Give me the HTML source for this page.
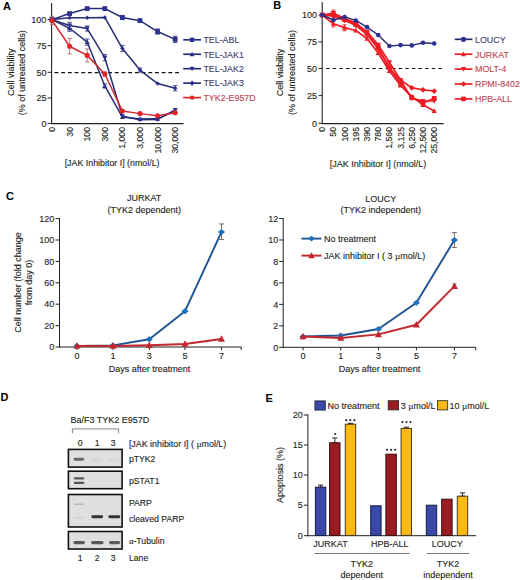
<!DOCTYPE html>
<html><head><meta charset="utf-8"><title>Figure</title>
<style>
html,body{margin:0;padding:0;background:#fff;width:520px;height:580px;overflow:hidden;}
svg{display:block;font-family:"Liberation Sans", sans-serif;}
</style></head>
<body>
<svg width="520" height="580" viewBox="0 0 520 580">
<defs><filter id="bl" x="-30%" y="-100%" width="160%" height="300%"><feGaussianBlur stdDeviation="0.7"/></filter></defs>
<rect width="520" height="580" fill="#fff"/>
<text x="3" y="9.7" font-size="11" text-anchor="start" fill="#000" font-weight="bold">A</text>
<line x1="51.6" y1="3" x2="51.6" y2="124.1" stroke="#231f20" stroke-width="1.1"/>
<line x1="51.1" y1="123.6" x2="183.6" y2="123.6" stroke="#231f20" stroke-width="1.1"/>
<line x1="47.6" y1="123.4" x2="51.6" y2="123.4" stroke="#231f20" stroke-width="1"/>
<text x="46.4" y="126.6" font-size="9" text-anchor="end" fill="#231f20" stroke="#231f20" stroke-width="0.12">0</text>
<line x1="47.6" y1="98" x2="51.6" y2="98" stroke="#231f20" stroke-width="1"/>
<text x="46.4" y="101.2" font-size="9" text-anchor="end" fill="#231f20" stroke="#231f20" stroke-width="0.12">25</text>
<line x1="47.6" y1="72.3" x2="51.6" y2="72.3" stroke="#231f20" stroke-width="1"/>
<text x="46.4" y="75.5" font-size="9" text-anchor="end" fill="#231f20" stroke="#231f20" stroke-width="0.12">50</text>
<line x1="47.6" y1="45.7" x2="51.6" y2="45.7" stroke="#231f20" stroke-width="1"/>
<text x="46.4" y="48.9" font-size="9" text-anchor="end" fill="#231f20" stroke="#231f20" stroke-width="0.12">75</text>
<line x1="47.6" y1="19.5" x2="51.6" y2="19.5" stroke="#231f20" stroke-width="1"/>
<text x="46.4" y="22.7" font-size="9" text-anchor="end" fill="#231f20" stroke="#231f20" stroke-width="0.12">100</text>
<text x="0" y="0" font-size="8.7" text-anchor="end" fill="#231f20" stroke="#231f20" stroke-width="0.12" transform="translate(54.9,127) rotate(-90)">0</text>
<text x="0" y="0" font-size="8.7" text-anchor="end" fill="#231f20" stroke="#231f20" stroke-width="0.12" transform="translate(72.5,127) rotate(-90)">30</text>
<text x="0" y="0" font-size="8.7" text-anchor="end" fill="#231f20" stroke="#231f20" stroke-width="0.12" transform="translate(90.1,127) rotate(-90)">100</text>
<text x="0" y="0" font-size="8.7" text-anchor="end" fill="#231f20" stroke="#231f20" stroke-width="0.12" transform="translate(107.7,127) rotate(-90)">300</text>
<text x="0" y="0" font-size="8.7" text-anchor="end" fill="#231f20" stroke="#231f20" stroke-width="0.12" transform="translate(125.3,127) rotate(-90)">1,000</text>
<text x="0" y="0" font-size="8.7" text-anchor="end" fill="#231f20" stroke="#231f20" stroke-width="0.12" transform="translate(142.9,127) rotate(-90)">3,000</text>
<text x="0" y="0" font-size="8.7" text-anchor="end" fill="#231f20" stroke="#231f20" stroke-width="0.12" transform="translate(160.5,127) rotate(-90)">10,000</text>
<text x="0" y="0" font-size="8.7" text-anchor="end" fill="#231f20" stroke="#231f20" stroke-width="0.12" transform="translate(178.1,127) rotate(-90)">30,000</text>
<text x="112.1" y="166.4" font-size="8.85" text-anchor="middle" fill="#231f20" stroke="#231f20" stroke-width="0.12">[JAK Inhibitor I] (nmol/L)</text>
<text x="0" y="0" font-size="9" text-anchor="middle" fill="#231f20" stroke="#231f20" stroke-width="0.12" transform="translate(13.5,72.2) rotate(-90)">Cell viability</text>
<text x="0" y="0" font-size="9" text-anchor="middle" fill="#231f20" stroke="#231f20" stroke-width="0.12" transform="translate(24.6,72.7) rotate(-90)">(% of untreated cells)</text>
<line x1="54.5" y1="72.6" x2="180" y2="72.6" stroke="#111" stroke-width="1.15" stroke-dasharray="3.85,2.85"/>
<line x1="122.4" y1="15.44" x2="122.4" y2="19.6" stroke="#3a4080" stroke-width="0.9"/>
<line x1="120.2" y1="15.44" x2="124.6" y2="15.44" stroke="#3a4080" stroke-width="0.9"/>
<line x1="120.2" y1="19.6" x2="124.6" y2="19.6" stroke="#3a4080" stroke-width="0.9"/>
<line x1="140" y1="19.08" x2="140" y2="22.2" stroke="#3a4080" stroke-width="0.9"/>
<line x1="137.8" y1="19.08" x2="142.2" y2="19.08" stroke="#3a4080" stroke-width="0.9"/>
<line x1="137.8" y1="22.2" x2="142.2" y2="22.2" stroke="#3a4080" stroke-width="0.9"/>
<line x1="157.6" y1="28.96" x2="157.6" y2="34.16" stroke="#3a4080" stroke-width="0.9"/>
<line x1="155.4" y1="28.96" x2="159.8" y2="28.96" stroke="#3a4080" stroke-width="0.9"/>
<line x1="155.4" y1="34.16" x2="159.8" y2="34.16" stroke="#3a4080" stroke-width="0.9"/>
<line x1="175.2" y1="36.24" x2="175.2" y2="42.48" stroke="#3a4080" stroke-width="0.9"/>
<line x1="173" y1="36.24" x2="177.4" y2="36.24" stroke="#3a4080" stroke-width="0.9"/>
<line x1="173" y1="42.48" x2="177.4" y2="42.48" stroke="#3a4080" stroke-width="0.9"/>
<polyline points="52,19.6 69.6,13.57 87.2,8.58 104.8,8.58 122.4,17.52 140,20.64 157.6,31.56 175.2,39.36" fill="none" stroke="#272d75" stroke-width="1.5" stroke-linejoin="round"/>
<rect x="49.6" y="17.2" width="4.8" height="4.8" fill="#2b3290"/>
<rect x="67.2" y="11.17" width="4.8" height="4.8" fill="#2b3290"/>
<rect x="84.8" y="6.18" width="4.8" height="4.8" fill="#2b3290"/>
<rect x="102.4" y="6.18" width="4.8" height="4.8" fill="#2b3290"/>
<rect x="120" y="15.12" width="4.8" height="4.8" fill="#2b3290"/>
<rect x="137.6" y="18.24" width="4.8" height="4.8" fill="#2b3290"/>
<rect x="155.2" y="29.16" width="4.8" height="4.8" fill="#2b3290"/>
<rect x="172.8" y="36.96" width="4.8" height="4.8" fill="#2b3290"/>
<line x1="122.4" y1="45.39" x2="122.4" y2="51.63" stroke="#3a4080" stroke-width="0.9"/>
<line x1="120.2" y1="45.39" x2="124.6" y2="45.39" stroke="#3a4080" stroke-width="0.9"/>
<line x1="120.2" y1="51.63" x2="124.6" y2="51.63" stroke="#3a4080" stroke-width="0.9"/>
<line x1="140" y1="67.96" x2="140" y2="72.12" stroke="#3a4080" stroke-width="0.9"/>
<line x1="137.8" y1="67.96" x2="142.2" y2="67.96" stroke="#3a4080" stroke-width="0.9"/>
<line x1="137.8" y1="72.12" x2="142.2" y2="72.12" stroke="#3a4080" stroke-width="0.9"/>
<line x1="175.2" y1="85.64" x2="175.2" y2="90.84" stroke="#3a4080" stroke-width="0.9"/>
<line x1="173" y1="85.64" x2="177.4" y2="85.64" stroke="#3a4080" stroke-width="0.9"/>
<line x1="173" y1="90.84" x2="177.4" y2="90.84" stroke="#3a4080" stroke-width="0.9"/>
<polyline points="52,19.6 69.6,17.73 87.2,17.73 104.8,17.42 122.4,48.51 140,70.04 157.6,83.56 175.2,88.24" fill="none" stroke="#272d75" stroke-width="1.5" stroke-linejoin="round"/>
<polygon points="52,17.38 54.22,19.6 52,21.82 49.78,19.6" fill="#2b3290"/>
<polygon points="69.6,15.51 71.82,17.73 69.6,19.95 67.38,17.73" fill="#2b3290"/>
<polygon points="87.2,15.51 89.42,17.73 87.2,19.95 84.98,17.73" fill="#2b3290"/>
<polygon points="104.8,15.2 107.02,17.42 104.8,19.64 102.58,17.42" fill="#2b3290"/>
<polygon points="122.4,46.29 124.62,48.51 122.4,50.73 120.18,48.51" fill="#2b3290"/>
<polygon points="140,67.82 142.22,70.04 140,72.26 137.78,70.04" fill="#2b3290"/>
<polygon points="157.6,81.34 159.82,83.56 157.6,85.78 155.38,83.56" fill="#2b3290"/>
<polygon points="175.2,86.02 177.42,88.24 175.2,90.46 172.98,88.24" fill="#2b3290"/>
<line x1="69.6" y1="22.3" x2="69.6" y2="28.54" stroke="#3a4080" stroke-width="0.9"/>
<line x1="67.4" y1="22.3" x2="71.8" y2="22.3" stroke="#3a4080" stroke-width="0.9"/>
<line x1="67.4" y1="28.54" x2="71.8" y2="28.54" stroke="#3a4080" stroke-width="0.9"/>
<line x1="87.2" y1="25.94" x2="87.2" y2="31.14" stroke="#3a4080" stroke-width="0.9"/>
<line x1="85" y1="25.94" x2="89.4" y2="25.94" stroke="#3a4080" stroke-width="0.9"/>
<line x1="85" y1="31.14" x2="89.4" y2="31.14" stroke="#3a4080" stroke-width="0.9"/>
<line x1="104.8" y1="54.54" x2="104.8" y2="60.78" stroke="#3a4080" stroke-width="0.9"/>
<line x1="102.6" y1="54.54" x2="107" y2="54.54" stroke="#3a4080" stroke-width="0.9"/>
<line x1="102.6" y1="60.78" x2="107" y2="60.78" stroke="#3a4080" stroke-width="0.9"/>
<polyline points="52,19.6 69.6,25.42 87.2,28.54 104.8,57.66 122.4,116.32 140,119.65 157.6,119.44 175.2,109.87" fill="none" stroke="#272d75" stroke-width="1.5" stroke-linejoin="round"/>
<polygon points="52,22.24 54.53,17.62 49.47,17.62" fill="#2b3290"/>
<polygon points="69.6,28.07 72.13,23.44 67.07,23.44" fill="#2b3290"/>
<polygon points="87.2,31.19 89.73,26.56 84.67,26.56" fill="#2b3290"/>
<polygon points="104.8,60.31 107.33,55.68 102.27,55.68" fill="#2b3290"/>
<polygon points="122.4,118.96 124.93,114.34 119.87,114.34" fill="#2b3290"/>
<polygon points="140,122.29 142.53,117.66 137.47,117.66" fill="#2b3290"/>
<polygon points="157.6,122.08 160.13,117.46 155.07,117.46" fill="#2b3290"/>
<polygon points="175.2,112.52 177.73,107.89 172.67,107.89" fill="#2b3290"/>
<line x1="69.6" y1="25.11" x2="69.6" y2="31.35" stroke="#3a4080" stroke-width="0.9"/>
<line x1="67.4" y1="25.11" x2="71.8" y2="25.11" stroke="#3a4080" stroke-width="0.9"/>
<line x1="67.4" y1="31.35" x2="71.8" y2="31.35" stroke="#3a4080" stroke-width="0.9"/>
<line x1="87.2" y1="38.94" x2="87.2" y2="45.18" stroke="#3a4080" stroke-width="0.9"/>
<line x1="85" y1="38.94" x2="89.4" y2="38.94" stroke="#3a4080" stroke-width="0.9"/>
<line x1="85" y1="45.18" x2="89.4" y2="45.18" stroke="#3a4080" stroke-width="0.9"/>
<line x1="104.8" y1="83.87" x2="104.8" y2="88.03" stroke="#3a4080" stroke-width="0.9"/>
<line x1="102.6" y1="83.87" x2="107" y2="83.87" stroke="#3a4080" stroke-width="0.9"/>
<line x1="102.6" y1="88.03" x2="107" y2="88.03" stroke="#3a4080" stroke-width="0.9"/>
<polyline points="52,19.6 69.6,28.23 87.2,42.06 104.8,85.95 122.4,117.05 140,119.02 157.6,118.82 175.2,110.91" fill="none" stroke="#272d75" stroke-width="1.5" stroke-linejoin="round"/>
<polygon points="52,16.95 54.53,21.58 49.47,21.58" fill="#2b3290"/>
<polygon points="69.6,25.59 72.13,30.22 67.07,30.22" fill="#2b3290"/>
<polygon points="87.2,39.42 89.73,44.05 84.67,44.05" fill="#2b3290"/>
<polygon points="104.8,83.31 107.33,87.94 102.27,87.94" fill="#2b3290"/>
<polygon points="122.4,114.4 124.93,119.03 119.87,119.03" fill="#2b3290"/>
<polygon points="140,116.38 142.53,121.01 137.47,121.01" fill="#2b3290"/>
<polygon points="157.6,116.17 160.13,120.8 155.07,120.8" fill="#2b3290"/>
<polygon points="175.2,108.27 177.73,112.9 172.67,112.9" fill="#2b3290"/>
<line x1="52" y1="16.27" x2="52" y2="24.59" stroke="#b07070" stroke-width="0.9"/>
<line x1="49.8" y1="16.27" x2="54.2" y2="16.27" stroke="#b07070" stroke-width="0.9"/>
<line x1="49.8" y1="24.59" x2="54.2" y2="24.59" stroke="#b07070" stroke-width="0.9"/>
<line x1="69.6" y1="38.53" x2="69.6" y2="53.92" stroke="#b07070" stroke-width="0.9"/>
<line x1="67.4" y1="38.53" x2="71.8" y2="38.53" stroke="#b07070" stroke-width="0.9"/>
<line x1="67.4" y1="53.92" x2="71.8" y2="53.92" stroke="#b07070" stroke-width="0.9"/>
<line x1="87.2" y1="48.93" x2="87.2" y2="61.82" stroke="#b07070" stroke-width="0.9"/>
<line x1="85" y1="48.93" x2="89.4" y2="48.93" stroke="#b07070" stroke-width="0.9"/>
<line x1="85" y1="61.82" x2="89.4" y2="61.82" stroke="#b07070" stroke-width="0.9"/>
<line x1="104.8" y1="71.91" x2="104.8" y2="76.07" stroke="#b07070" stroke-width="0.9"/>
<line x1="102.6" y1="71.91" x2="107" y2="71.91" stroke="#b07070" stroke-width="0.9"/>
<line x1="102.6" y1="76.07" x2="107" y2="76.07" stroke="#b07070" stroke-width="0.9"/>
<polyline points="52,20.43 69.6,46.22 87.2,55.38 104.8,73.99 122.4,111.02 140,113.62 157.6,115.8 175.2,112.78" fill="none" stroke="#d0282c" stroke-width="1.5" stroke-linejoin="round"/>
<circle cx="52" cy="20.43" r="2.55" fill="#e3242b"/>
<circle cx="69.6" cy="46.22" r="2.55" fill="#e3242b"/>
<circle cx="87.2" cy="55.38" r="2.55" fill="#e3242b"/>
<circle cx="104.8" cy="73.99" r="2.55" fill="#e3242b"/>
<circle cx="122.4" cy="111.02" r="2.55" fill="#e3242b"/>
<circle cx="140" cy="113.62" r="2.55" fill="#e3242b"/>
<circle cx="157.6" cy="115.8" r="2.55" fill="#e3242b"/>
<circle cx="175.2" cy="112.78" r="2.55" fill="#e3242b"/>
<line x1="183.2" y1="39.8" x2="201" y2="39.8" stroke="#272d75" stroke-width="1.7"/>
<rect x="189.9" y="37.6" width="4.4" height="4.4" fill="#2b3290"/>
<text x="203.4" y="43.1" font-size="8.9" text-anchor="start" fill="#3b3f72" stroke="#3b3f72" stroke-width="0.12">TEL-ABL</text>
<line x1="183.2" y1="54.25" x2="201" y2="54.25" stroke="#272d75" stroke-width="1.7"/>
<polygon points="192.1,51.72 194.52,56.15 189.68,56.15" fill="#2b3290"/>
<text x="203.4" y="57.55" font-size="8.9" text-anchor="start" fill="#3b3f72" stroke="#3b3f72" stroke-width="0.12">TEL-JAK1</text>
<line x1="183.2" y1="68.7" x2="201" y2="68.7" stroke="#272d75" stroke-width="1.7"/>
<polygon points="192.1,71.23 194.52,66.8 189.68,66.8" fill="#2b3290"/>
<text x="203.4" y="72" font-size="8.9" text-anchor="start" fill="#3b3f72" stroke="#3b3f72" stroke-width="0.12">TEL-JAK2</text>
<line x1="183.2" y1="83.15" x2="201" y2="83.15" stroke="#272d75" stroke-width="1.7"/>
<polygon points="192.1,80.51 194.74,83.15 192.1,85.79 189.46,83.15" fill="#2b3290"/>
<text x="203.4" y="86.45" font-size="8.9" text-anchor="start" fill="#3b3f72" stroke="#3b3f72" stroke-width="0.12">TEL-JAK3</text>
<line x1="183.2" y1="97.6" x2="201" y2="97.6" stroke="#d0282c" stroke-width="1.7"/>
<circle cx="192.1" cy="97.6" r="2.2" fill="#e3242b"/>
<text x="203.4" y="100.9" font-size="8.9" text-anchor="start" fill="#c04550" stroke="#c04550" stroke-width="0.12">TYK2-E957D</text>
<text x="273.2" y="9.4" font-size="11" text-anchor="start" fill="#000" font-weight="bold">B</text>
<line x1="322.2" y1="2" x2="322.2" y2="124.1" stroke="#231f20" stroke-width="1.1"/>
<line x1="321.7" y1="123.6" x2="443.6" y2="123.6" stroke="#231f20" stroke-width="1.1"/>
<line x1="318.6" y1="123.3" x2="322.2" y2="123.3" stroke="#231f20" stroke-width="1"/>
<text x="317" y="126.5" font-size="9" text-anchor="end" fill="#231f20" stroke="#231f20" stroke-width="0.12">0</text>
<line x1="318.6" y1="95.6" x2="322.2" y2="95.6" stroke="#231f20" stroke-width="1"/>
<text x="317" y="98.8" font-size="9" text-anchor="end" fill="#231f20" stroke="#231f20" stroke-width="0.12">25</text>
<line x1="318.6" y1="68.4" x2="322.2" y2="68.4" stroke="#231f20" stroke-width="1"/>
<text x="317" y="71.6" font-size="9" text-anchor="end" fill="#231f20" stroke="#231f20" stroke-width="0.12">50</text>
<line x1="318.6" y1="41.9" x2="322.2" y2="41.9" stroke="#231f20" stroke-width="1"/>
<text x="317" y="45.1" font-size="9" text-anchor="end" fill="#231f20" stroke="#231f20" stroke-width="0.12">75</text>
<line x1="318.6" y1="15.2" x2="322.2" y2="15.2" stroke="#231f20" stroke-width="1"/>
<text x="317" y="18.4" font-size="9" text-anchor="end" fill="#231f20" stroke="#231f20" stroke-width="0.12">100</text>
<text x="0" y="0" font-size="8.7" text-anchor="end" fill="#231f20" stroke="#231f20" stroke-width="0.12" transform="translate(325.2,127) rotate(-90)">0</text>
<text x="0" y="0" font-size="8.7" text-anchor="end" fill="#231f20" stroke="#231f20" stroke-width="0.12" transform="translate(336.4,127) rotate(-90)">50</text>
<text x="0" y="0" font-size="8.7" text-anchor="end" fill="#231f20" stroke="#231f20" stroke-width="0.12" transform="translate(347.6,127) rotate(-90)">100</text>
<text x="0" y="0" font-size="8.7" text-anchor="end" fill="#231f20" stroke="#231f20" stroke-width="0.12" transform="translate(358.8,127) rotate(-90)">195</text>
<text x="0" y="0" font-size="8.7" text-anchor="end" fill="#231f20" stroke="#231f20" stroke-width="0.12" transform="translate(370,127) rotate(-90)">390</text>
<text x="0" y="0" font-size="8.7" text-anchor="end" fill="#231f20" stroke="#231f20" stroke-width="0.12" transform="translate(381.2,127) rotate(-90)">780</text>
<text x="0" y="0" font-size="8.7" text-anchor="end" fill="#231f20" stroke="#231f20" stroke-width="0.12" transform="translate(392.4,127) rotate(-90)">1,560</text>
<text x="0" y="0" font-size="8.7" text-anchor="end" fill="#231f20" stroke="#231f20" stroke-width="0.12" transform="translate(403.6,127) rotate(-90)">3,125</text>
<text x="0" y="0" font-size="8.7" text-anchor="end" fill="#231f20" stroke="#231f20" stroke-width="0.12" transform="translate(414.8,127) rotate(-90)">6,250</text>
<text x="0" y="0" font-size="8.7" text-anchor="end" fill="#231f20" stroke="#231f20" stroke-width="0.12" transform="translate(426,127) rotate(-90)">12,500</text>
<text x="0" y="0" font-size="8.7" text-anchor="end" fill="#231f20" stroke="#231f20" stroke-width="0.12" transform="translate(437.2,127) rotate(-90)">25,000</text>
<text x="378" y="166.5" font-size="9" text-anchor="middle" fill="#231f20" stroke="#231f20" stroke-width="0.12">[JAK Inhibitor I] (nmol/L)</text>
<text x="0" y="0" font-size="9" text-anchor="middle" fill="#231f20" stroke="#231f20" stroke-width="0.12" transform="translate(283.1,72.6) rotate(-90)">Cell viability</text>
<text x="0" y="0" font-size="9" text-anchor="middle" fill="#231f20" stroke="#231f20" stroke-width="0.12" transform="translate(295.1,72.6) rotate(-90)">(% of untreated cells)</text>
<line x1="326.1" y1="68.5" x2="443" y2="68.5" stroke="#111" stroke-width="1.15" stroke-dasharray="3.5,3.1"/>
<polyline points="322.2,15 333.4,23.8 344.6,27.6 355.8,30.53 367,38.57 378.2,53.01 389.4,70.93 400.6,85.48 411.8,96.67 423,104.81 434.2,111" fill="none" stroke="#ed1c24" stroke-width="1.7" stroke-linejoin="round"/>
<polygon points="322.2,12.24 324.84,17.07 319.56,17.07" fill="#ed1c24"/>
<polygon points="333.4,21.04 336.04,25.87 330.76,25.87" fill="#ed1c24"/>
<polygon points="344.6,24.84 347.24,29.67 341.96,29.67" fill="#ed1c24"/>
<polygon points="355.8,27.77 358.44,32.6 353.16,32.6" fill="#ed1c24"/>
<polygon points="367,35.81 369.64,40.64 364.36,40.64" fill="#ed1c24"/>
<polygon points="378.2,50.25 380.84,55.08 375.56,55.08" fill="#ed1c24"/>
<polygon points="389.4,68.17 392.04,73 386.76,73" fill="#ed1c24"/>
<polygon points="400.6,82.72 403.24,87.55 397.96,87.55" fill="#ed1c24"/>
<polygon points="411.8,93.91 414.44,98.74 409.16,98.74" fill="#ed1c24"/>
<polygon points="423,102.05 425.64,106.88 420.36,106.88" fill="#ed1c24"/>
<polygon points="434.2,108.24 436.84,113.07 431.56,113.07" fill="#ed1c24"/>
<polyline points="322.2,15 333.4,16.09 344.6,20.43 355.8,25.32 367,34.55 378.2,48.67 389.4,68.32 400.6,80.27 411.8,87.76 423,89.83 434.2,91.02" fill="none" stroke="#ed1c24" stroke-width="1.7" stroke-linejoin="round"/>
<polygon points="322.2,12.12 325.08,15 322.2,17.88 319.32,15" fill="#ed1c24"/>
<polygon points="333.4,13.21 336.28,16.09 333.4,18.97 330.52,16.09" fill="#ed1c24"/>
<polygon points="344.6,17.55 347.48,20.43 344.6,23.31 341.72,20.43" fill="#ed1c24"/>
<polygon points="355.8,22.44 358.68,25.32 355.8,28.2 352.92,25.32" fill="#ed1c24"/>
<polygon points="367,31.67 369.88,34.55 367,37.43 364.12,34.55" fill="#ed1c24"/>
<polygon points="378.2,45.79 381.08,48.67 378.2,51.55 375.32,48.67" fill="#ed1c24"/>
<polygon points="389.4,65.44 392.28,68.32 389.4,71.2 386.52,68.32" fill="#ed1c24"/>
<polygon points="400.6,77.39 403.48,80.27 400.6,83.15 397.72,80.27" fill="#ed1c24"/>
<polygon points="411.8,84.88 414.68,87.76 411.8,90.64 408.92,87.76" fill="#ed1c24"/>
<polygon points="423,86.95 425.88,89.83 423,92.71 420.12,89.83" fill="#ed1c24"/>
<polygon points="434.2,88.14 437.08,91.02 434.2,93.9 431.32,91.02" fill="#ed1c24"/>
<polyline points="322.2,15 333.4,14.57 344.6,19.34 355.8,24.12 367,32.92 378.2,47.04 389.4,67.13 400.6,84.5 411.8,97.54 423,102.97 434.2,98.4" fill="none" stroke="#ed1c24" stroke-width="1.7" stroke-linejoin="round"/>
<rect x="319.8" y="12.6" width="4.8" height="4.8" fill="#ed1c24"/>
<rect x="331" y="12.17" width="4.8" height="4.8" fill="#ed1c24"/>
<rect x="342.2" y="16.94" width="4.8" height="4.8" fill="#ed1c24"/>
<rect x="353.4" y="21.72" width="4.8" height="4.8" fill="#ed1c24"/>
<rect x="364.6" y="30.52" width="4.8" height="4.8" fill="#ed1c24"/>
<rect x="375.8" y="44.64" width="4.8" height="4.8" fill="#ed1c24"/>
<rect x="387" y="64.73" width="4.8" height="4.8" fill="#ed1c24"/>
<rect x="398.2" y="82.1" width="4.8" height="4.8" fill="#ed1c24"/>
<rect x="409.4" y="95.14" width="4.8" height="4.8" fill="#ed1c24"/>
<rect x="420.6" y="100.57" width="4.8" height="4.8" fill="#ed1c24"/>
<rect x="431.8" y="96" width="4.8" height="4.8" fill="#ed1c24"/>
<polyline points="322.2,15 333.4,13.15 344.6,18.26 355.8,23.14 367,31.83 378.2,44.86 389.4,62.24 400.6,80.27 411.8,98.4 423,101.01 434.2,101.01" fill="none" stroke="#ed1c24" stroke-width="1.7" stroke-linejoin="round"/>
<polygon points="322.2,17.76 324.84,12.93 319.56,12.93" fill="#ed1c24"/>
<polygon points="333.4,15.91 336.04,11.08 330.76,11.08" fill="#ed1c24"/>
<polygon points="344.6,21.02 347.24,16.19 341.96,16.19" fill="#ed1c24"/>
<polygon points="355.8,25.9 358.44,21.07 353.16,21.07" fill="#ed1c24"/>
<polygon points="367,34.59 369.64,29.76 364.36,29.76" fill="#ed1c24"/>
<polygon points="378.2,47.62 380.84,42.79 375.56,42.79" fill="#ed1c24"/>
<polygon points="389.4,65 392.04,60.17 386.76,60.17" fill="#ed1c24"/>
<polygon points="400.6,83.03 403.24,78.2 397.96,78.2" fill="#ed1c24"/>
<polygon points="411.8,101.16 414.44,96.33 409.16,96.33" fill="#ed1c24"/>
<polygon points="423,103.77 425.64,98.94 420.36,98.94" fill="#ed1c24"/>
<polygon points="434.2,103.77 436.84,98.94 431.56,98.94" fill="#ed1c24"/>
<line x1="333.4" y1="10.11" x2="333.4" y2="16.09" stroke="#ed1c24" stroke-width="0.9"/>
<line x1="331.4" y1="10.11" x2="335.4" y2="10.11" stroke="#ed1c24" stroke-width="0.9"/>
<line x1="331.4" y1="16.09" x2="335.4" y2="16.09" stroke="#ed1c24" stroke-width="0.9"/>
<line x1="333.4" y1="20.97" x2="333.4" y2="26.95" stroke="#ed1c24" stroke-width="0.9"/>
<line x1="331.4" y1="20.97" x2="335.4" y2="20.97" stroke="#ed1c24" stroke-width="0.9"/>
<line x1="331.4" y1="26.95" x2="335.4" y2="26.95" stroke="#ed1c24" stroke-width="0.9"/>
<line x1="344.6" y1="24.77" x2="344.6" y2="30.75" stroke="#ed1c24" stroke-width="0.9"/>
<line x1="342.6" y1="24.77" x2="346.6" y2="24.77" stroke="#ed1c24" stroke-width="0.9"/>
<line x1="342.6" y1="30.75" x2="346.6" y2="30.75" stroke="#ed1c24" stroke-width="0.9"/>
<polyline points="322.2,15 333.4,20 344.6,16.95 355.8,20.43 367,27.16 378.2,34.98 389.4,45.95 400.6,45.08 411.8,45.41 423,42.8 434.2,43.45" fill="none" stroke="#272d75" stroke-width="1.4" stroke-linejoin="round"/>
<circle cx="322.2" cy="15" r="2.3" fill="#2b3290"/>
<circle cx="333.4" cy="20" r="2.3" fill="#2b3290"/>
<circle cx="344.6" cy="16.95" r="2.3" fill="#2b3290"/>
<circle cx="355.8" cy="20.43" r="2.3" fill="#2b3290"/>
<circle cx="367" cy="27.16" r="2.3" fill="#2b3290"/>
<circle cx="378.2" cy="34.98" r="2.3" fill="#2b3290"/>
<circle cx="389.4" cy="45.95" r="2.3" fill="#2b3290"/>
<circle cx="400.6" cy="45.08" r="2.3" fill="#2b3290"/>
<circle cx="411.8" cy="45.41" r="2.3" fill="#2b3290"/>
<circle cx="423" cy="42.8" r="2.3" fill="#2b3290"/>
<circle cx="434.2" cy="43.45" r="2.3" fill="#2b3290"/>
<line x1="454.7" y1="39.3" x2="472.4" y2="39.3" stroke="#272d75" stroke-width="1.7"/>
<circle cx="463.5" cy="39.3" r="2.6" fill="#2b3290"/>
<text x="475" y="42.6" font-size="8.9" text-anchor="start" fill="#3b3f72" stroke="#3b3f72" stroke-width="0.12">LOUCY</text>
<line x1="454.7" y1="54.2" x2="472.4" y2="54.2" stroke="#ed1c24" stroke-width="1.7"/>
<polygon points="463.5,51.55 466.03,56.18 460.97,56.18" fill="#ed1c24"/>
<text x="475" y="57.5" font-size="8.9" text-anchor="start" fill="#c04550" stroke="#c04550" stroke-width="0.12">JURKAT</text>
<line x1="454.7" y1="69.1" x2="472.4" y2="69.1" stroke="#ed1c24" stroke-width="1.7"/>
<polygon points="463.5,71.74 466.03,67.12 460.97,67.12" fill="#ed1c24"/>
<text x="475" y="72.4" font-size="8.9" text-anchor="start" fill="#c04550" stroke="#c04550" stroke-width="0.12">MOLT-4</text>
<line x1="454.7" y1="84" x2="472.4" y2="84" stroke="#ed1c24" stroke-width="1.7"/>
<polygon points="463.5,81.24 466.26,84 463.5,86.76 460.74,84" fill="#ed1c24"/>
<text x="475" y="87.3" font-size="8.9" text-anchor="start" fill="#c04550" stroke="#c04550" stroke-width="0.12">RPMI-8402</text>
<line x1="454.7" y1="98.9" x2="472.4" y2="98.9" stroke="#ed1c24" stroke-width="1.7"/>
<rect x="461.2" y="96.6" width="4.6" height="4.6" fill="#ed1c24"/>
<text x="475" y="102.2" font-size="8.9" text-anchor="start" fill="#c04550" stroke="#c04550" stroke-width="0.12">HPB-ALL</text>
<text x="6" y="199.6" font-size="11" text-anchor="start" fill="#000" font-weight="bold">C</text>
<line x1="59.5" y1="218" x2="59.5" y2="347.5" stroke="#231f20" stroke-width="1"/>
<line x1="59" y1="347" x2="241.2" y2="347" stroke="#231f20" stroke-width="1"/>
<line x1="55.5" y1="347" x2="59.5" y2="347" stroke="#231f20" stroke-width="1"/>
<text x="54.3" y="350.2" font-size="9" text-anchor="end" fill="#231f20" stroke="#231f20" stroke-width="0.12">0</text>
<line x1="55.5" y1="325.6" x2="59.5" y2="325.6" stroke="#231f20" stroke-width="1"/>
<text x="54.3" y="328.8" font-size="9" text-anchor="end" fill="#231f20" stroke="#231f20" stroke-width="0.12">20</text>
<line x1="55.5" y1="304.2" x2="59.5" y2="304.2" stroke="#231f20" stroke-width="1"/>
<text x="54.3" y="307.4" font-size="9" text-anchor="end" fill="#231f20" stroke="#231f20" stroke-width="0.12">40</text>
<line x1="55.5" y1="282.8" x2="59.5" y2="282.8" stroke="#231f20" stroke-width="1"/>
<text x="54.3" y="286" font-size="9" text-anchor="end" fill="#231f20" stroke="#231f20" stroke-width="0.12">60</text>
<line x1="55.5" y1="261.4" x2="59.5" y2="261.4" stroke="#231f20" stroke-width="1"/>
<text x="54.3" y="264.6" font-size="9" text-anchor="end" fill="#231f20" stroke="#231f20" stroke-width="0.12">80</text>
<line x1="55.5" y1="240" x2="59.5" y2="240" stroke="#231f20" stroke-width="1"/>
<text x="54.3" y="243.2" font-size="9" text-anchor="end" fill="#231f20" stroke="#231f20" stroke-width="0.12">100</text>
<line x1="55.5" y1="218.6" x2="59.5" y2="218.6" stroke="#231f20" stroke-width="1"/>
<text x="54.3" y="221.8" font-size="9" text-anchor="end" fill="#231f20" stroke="#231f20" stroke-width="0.12">120</text>
<line x1="77" y1="347" x2="77" y2="350" stroke="#231f20" stroke-width="1"/>
<text x="77" y="358.6" font-size="9" text-anchor="middle" fill="#231f20" stroke="#231f20" stroke-width="0.12">0</text>
<line x1="113" y1="347" x2="113" y2="350" stroke="#231f20" stroke-width="1"/>
<text x="113" y="358.6" font-size="9" text-anchor="middle" fill="#231f20" stroke="#231f20" stroke-width="0.12">1</text>
<line x1="149.3" y1="347" x2="149.3" y2="350" stroke="#231f20" stroke-width="1"/>
<text x="149.3" y="358.6" font-size="9" text-anchor="middle" fill="#231f20" stroke="#231f20" stroke-width="0.12">3</text>
<line x1="185" y1="347" x2="185" y2="350" stroke="#231f20" stroke-width="1"/>
<text x="185" y="358.6" font-size="9" text-anchor="middle" fill="#231f20" stroke="#231f20" stroke-width="0.12">5</text>
<line x1="221.5" y1="347" x2="221.5" y2="350" stroke="#231f20" stroke-width="1"/>
<text x="221.5" y="358.6" font-size="9" text-anchor="middle" fill="#231f20" stroke="#231f20" stroke-width="0.12">7</text>
<line x1="241.2" y1="347" x2="241.2" y2="350" stroke="#231f20" stroke-width="1"/>
<text x="149.5" y="372.1" font-size="9" text-anchor="middle" fill="#231f20" stroke="#231f20" stroke-width="0.12">Days after treatment</text>
<text x="144.2" y="201" font-size="9" text-anchor="middle" fill="#231f20" stroke="#231f20" stroke-width="0.12">JURKAT</text>
<text x="144.2" y="212.5" font-size="9" text-anchor="middle" fill="#231f20" stroke="#231f20" stroke-width="0.12">(TYK2 dependent)</text>
<text x="0" y="0" font-size="9" text-anchor="middle" fill="#231f20" stroke="#231f20" stroke-width="0.12" transform="translate(21.4,282.5) rotate(-90)">Cell number (fold change</text>
<text x="0" y="0" font-size="9" text-anchor="middle" fill="#231f20" stroke="#231f20" stroke-width="0.12" transform="translate(32.3,282.5) rotate(-90)">from day 0)</text>
<line x1="221.5" y1="223.95" x2="221.5" y2="239.46" stroke="#6a5a5a" stroke-width="0.9"/>
<line x1="219.1" y1="223.95" x2="223.9" y2="223.95" stroke="#6a5a5a" stroke-width="0.9"/>
<line x1="219.1" y1="239.46" x2="223.9" y2="239.46" stroke="#6a5a5a" stroke-width="0.9"/>
<polyline points="77,345.93 113,345.39 149.3,339.3 185,311.15 221.5,231.97" fill="none" stroke="#1d5392" stroke-width="1.9" stroke-linejoin="round"/>
<polygon points="77,342.87 80.6,345.93 77,348.99 73.4,345.93" fill="#1f6fba"/>
<polygon points="113,342.33 116.6,345.39 113,348.45 109.4,345.39" fill="#1f6fba"/>
<polygon points="149.3,336.24 152.9,339.3 149.3,342.36 145.7,339.3" fill="#1f6fba"/>
<polygon points="185,308.09 188.6,311.15 185,314.21 181.4,311.15" fill="#1f6fba"/>
<polygon points="221.5,228.91 225.1,231.97 221.5,235.03 217.9,231.97" fill="#1f6fba"/>
<polyline points="77,345.93 113,345.93 149.3,345.29 185,344 221.5,338.98" fill="none" stroke="#c1272d" stroke-width="1.9" stroke-linejoin="round"/>
<polygon points="77,342.25 80.52,348.69 73.48,348.69" fill="#c1272d"/>
<polygon points="113,342.25 116.52,348.69 109.48,348.69" fill="#c1272d"/>
<polygon points="149.3,341.61 152.82,348.05 145.78,348.05" fill="#c1272d"/>
<polygon points="185,340.32 188.52,346.76 181.48,346.76" fill="#c1272d"/>
<polygon points="221.5,335.3 225.02,341.74 217.98,341.74" fill="#c1272d"/>
<line x1="283.2" y1="218" x2="283.2" y2="347.8" stroke="#231f20" stroke-width="1"/>
<line x1="282.7" y1="347.3" x2="475.7" y2="347.3" stroke="#231f20" stroke-width="1"/>
<line x1="279.2" y1="347.3" x2="283.2" y2="347.3" stroke="#231f20" stroke-width="1"/>
<text x="278.2" y="350.5" font-size="9" text-anchor="end" fill="#231f20" stroke="#231f20" stroke-width="0.12">0</text>
<line x1="279.2" y1="325.83" x2="283.2" y2="325.83" stroke="#231f20" stroke-width="1"/>
<text x="278.2" y="329.03" font-size="9" text-anchor="end" fill="#231f20" stroke="#231f20" stroke-width="0.12">2</text>
<line x1="279.2" y1="304.37" x2="283.2" y2="304.37" stroke="#231f20" stroke-width="1"/>
<text x="278.2" y="307.57" font-size="9" text-anchor="end" fill="#231f20" stroke="#231f20" stroke-width="0.12">4</text>
<line x1="279.2" y1="282.9" x2="283.2" y2="282.9" stroke="#231f20" stroke-width="1"/>
<text x="278.2" y="286.1" font-size="9" text-anchor="end" fill="#231f20" stroke="#231f20" stroke-width="0.12">6</text>
<line x1="279.2" y1="261.44" x2="283.2" y2="261.44" stroke="#231f20" stroke-width="1"/>
<text x="278.2" y="264.64" font-size="9" text-anchor="end" fill="#231f20" stroke="#231f20" stroke-width="0.12">8</text>
<line x1="279.2" y1="239.97" x2="283.2" y2="239.97" stroke="#231f20" stroke-width="1"/>
<text x="278.2" y="243.17" font-size="9" text-anchor="end" fill="#231f20" stroke="#231f20" stroke-width="0.12">10</text>
<line x1="279.2" y1="218.5" x2="283.2" y2="218.5" stroke="#231f20" stroke-width="1"/>
<text x="278.2" y="221.7" font-size="9" text-anchor="end" fill="#231f20" stroke="#231f20" stroke-width="0.12">12</text>
<line x1="303" y1="347.3" x2="303" y2="350.3" stroke="#231f20" stroke-width="1"/>
<text x="303" y="358.6" font-size="9" text-anchor="middle" fill="#231f20" stroke="#231f20" stroke-width="0.12">0</text>
<line x1="340.8" y1="347.3" x2="340.8" y2="350.3" stroke="#231f20" stroke-width="1"/>
<text x="340.8" y="358.6" font-size="9" text-anchor="middle" fill="#231f20" stroke="#231f20" stroke-width="0.12">1</text>
<line x1="378.5" y1="347.3" x2="378.5" y2="350.3" stroke="#231f20" stroke-width="1"/>
<text x="378.5" y="358.6" font-size="9" text-anchor="middle" fill="#231f20" stroke="#231f20" stroke-width="0.12">3</text>
<line x1="416.4" y1="347.3" x2="416.4" y2="350.3" stroke="#231f20" stroke-width="1"/>
<text x="416.4" y="358.6" font-size="9" text-anchor="middle" fill="#231f20" stroke="#231f20" stroke-width="0.12">5</text>
<line x1="454.4" y1="347.3" x2="454.4" y2="350.3" stroke="#231f20" stroke-width="1"/>
<text x="454.4" y="358.6" font-size="9" text-anchor="middle" fill="#231f20" stroke="#231f20" stroke-width="0.12">7</text>
<line x1="475.7" y1="347.3" x2="475.7" y2="350.3" stroke="#231f20" stroke-width="1"/>
<text x="379.5" y="372.1" font-size="9" text-anchor="middle" fill="#231f20" stroke="#231f20" stroke-width="0.12">Days after treatment</text>
<text x="380.7" y="202" font-size="9" text-anchor="middle" fill="#231f20" stroke="#231f20" stroke-width="0.12">LOUCY</text>
<text x="380.7" y="213.4" font-size="9" text-anchor="middle" fill="#231f20" stroke="#231f20" stroke-width="0.12">(TYK2 independent)</text>
<line x1="454.4" y1="232.46" x2="454.4" y2="247.48" stroke="#6a5a5a" stroke-width="0.9"/>
<line x1="452" y1="232.46" x2="456.8" y2="232.46" stroke="#6a5a5a" stroke-width="0.9"/>
<line x1="452" y1="247.48" x2="456.8" y2="247.48" stroke="#6a5a5a" stroke-width="0.9"/>
<line x1="454.4" y1="283.98" x2="454.4" y2="288.27" stroke="#6a5a5a" stroke-width="0.9"/>
<line x1="452.4" y1="283.98" x2="456.4" y2="283.98" stroke="#6a5a5a" stroke-width="0.9"/>
<line x1="452.4" y1="288.27" x2="456.4" y2="288.27" stroke="#6a5a5a" stroke-width="0.9"/>
<polyline points="303,336.57 340.8,335.49 378.5,329.05 416.4,302.76 454.4,239.97" fill="none" stroke="#1d5392" stroke-width="1.9" stroke-linejoin="round"/>
<polygon points="303,333.51 306.6,336.57 303,339.63 299.4,336.57" fill="#1f6fba"/>
<polygon points="340.8,332.43 344.4,335.49 340.8,338.55 337.2,335.49" fill="#1f6fba"/>
<polygon points="378.5,325.99 382.1,329.05 378.5,332.11 374.9,329.05" fill="#1f6fba"/>
<polygon points="416.4,299.7 420,302.76 416.4,305.82 412.8,302.76" fill="#1f6fba"/>
<polygon points="454.4,236.91 458,239.97 454.4,243.03 450.8,239.97" fill="#1f6fba"/>
<polyline points="303,336.57 340.8,337.96 378.5,334.42 416.4,324.76 454.4,286.12" fill="none" stroke="#c1272d" stroke-width="1.9" stroke-linejoin="round"/>
<polygon points="303,332.89 306.52,339.33 299.48,339.33" fill="#c1272d"/>
<polygon points="340.8,334.28 344.32,340.72 337.28,340.72" fill="#c1272d"/>
<polygon points="378.5,330.74 382.02,337.18 374.98,337.18" fill="#c1272d"/>
<polygon points="416.4,321.08 419.92,327.52 412.88,327.52" fill="#c1272d"/>
<polygon points="454.4,282.44 457.92,288.88 450.88,288.88" fill="#c1272d"/>
<line x1="301.5" y1="238.6" x2="321.5" y2="238.6" stroke="#1d5392" stroke-width="1.9"/>
<polygon points="311.5,235.71 314.9,238.6 311.5,241.49 308.1,238.6" fill="#1f6fba"/>
<text x="324" y="241.8" font-size="9" text-anchor="start" fill="#231f20" stroke="#231f20" stroke-width="0.12">No treatment</text>
<line x1="301.5" y1="255.6" x2="321.5" y2="255.6" stroke="#c1272d" stroke-width="1.9"/>
<polygon points="311.5,252.15 314.8,258.19 308.2,258.19" fill="#c1272d"/>
<text x="324" y="258.8" font-size="9" text-anchor="start" fill="#231f20" stroke="#231f20" stroke-width="0.12">JAK inhibitor I ( 3 <tspan font-family="Liberation Serif">µ</tspan>mol/L)</text>
<text x="0.6" y="401.4" font-size="11" text-anchor="start" fill="#000" font-weight="bold">D</text>
<text x="70.4" y="422.7" font-size="9" text-anchor="start" fill="#231f20" stroke="#231f20" stroke-width="0.12">Ba/F3 TYK2 E957D</text>
<path d="M72.4,433.3 V428.9 H118.6 V433.3" fill="none" stroke="#666" stroke-width="0.8"/>
<text x="80.2" y="446.4" font-size="8.7" text-anchor="middle" fill="#231f20" stroke="#231f20" stroke-width="0.12">0</text>
<text x="97.2" y="446.4" font-size="8.7" text-anchor="middle" fill="#231f20" stroke="#231f20" stroke-width="0.12">1</text>
<text x="113.2" y="446.4" font-size="8.7" text-anchor="middle" fill="#231f20" stroke="#231f20" stroke-width="0.12">3</text>
<text x="80.2" y="561" font-size="8.7" text-anchor="middle" fill="#231f20" stroke="#231f20" stroke-width="0.12">1</text>
<text x="97.2" y="561" font-size="8.7" text-anchor="middle" fill="#231f20" stroke="#231f20" stroke-width="0.12">2</text>
<text x="113.2" y="561" font-size="8.7" text-anchor="middle" fill="#231f20" stroke="#231f20" stroke-width="0.12">3</text>
<rect x="68.4" y="449.4" width="53.7" height="17.7" fill="#dfdfdf" stroke="#111" stroke-width="1.6"/>
<rect x="68.4" y="471.2" width="53.7" height="17.5" fill="#dfdfdf" stroke="#111" stroke-width="1.6"/>
<rect x="68.4" y="494.5" width="53.7" height="32.5" fill="#dfdfdf" stroke="#111" stroke-width="1.6"/>
<rect x="68.4" y="531.5" width="53.7" height="17.5" fill="#dfdfdf" stroke="#111" stroke-width="1.6"/>
<rect x="73.6" y="457.75" width="10.6" height="2.9" rx="1.45" fill="#2a2a2a" opacity="0.66" filter="url(#bl)"/>
<rect x="91" y="458.6" width="11" height="1.8" rx="0.9" fill="#2a2a2a" opacity="0.045" filter="url(#bl)"/>
<rect x="108" y="458.6" width="11" height="1.8" rx="0.9" fill="#2a2a2a" opacity="0.04" filter="url(#bl)"/>
<rect x="73.8" y="477.15" width="10.6" height="2.3" rx="1.15" fill="#2a2a2a" opacity="0.75" filter="url(#bl)"/>
<rect x="73.8" y="481.75" width="10.6" height="2.3" rx="1.15" fill="#2a2a2a" opacity="0.75" filter="url(#bl)"/>
<rect x="73.8" y="503.4" width="10.2" height="1.6" rx="0.8" fill="#2a2a2a" opacity="0.2" filter="url(#bl)"/>
<rect x="74" y="516.9" width="10" height="1.6" rx="0.8" fill="#2a2a2a" opacity="0.07" filter="url(#bl)"/>
<rect x="91.3" y="515.35" width="11.8" height="2.9" rx="1.45" fill="#2a2a2a" opacity="0.95" filter="url(#bl)"/>
<rect x="108.3" y="515.35" width="12" height="2.9" rx="1.45" fill="#2a2a2a" opacity="0.95" filter="url(#bl)"/>
<rect x="73.4" y="540.9" width="11.6" height="3.4" rx="1.7" fill="#2a2a2a" opacity="0.74" filter="url(#bl)"/>
<rect x="91" y="540.9" width="12.6" height="3.4" rx="1.7" fill="#2a2a2a" opacity="0.74" filter="url(#bl)"/>
<rect x="109" y="540.95" width="11.2" height="3.3" rx="1.65" fill="#2a2a2a" opacity="0.7" filter="url(#bl)"/>
<text x="128.9" y="447.25" font-size="8.9" text-anchor="start" fill="#231f20" stroke="#231f20" stroke-width="0.12">[JAK inhibitor I] ( <tspan font-family="Liberation Serif">µ</tspan>mol/L)</text>
<text x="128.9" y="462.2" font-size="8.7" text-anchor="start" fill="#231f20" stroke="#231f20" stroke-width="0.12">pTYK2</text>
<text x="128.9" y="483.9" font-size="8.7" text-anchor="start" fill="#231f20" stroke="#231f20" stroke-width="0.12">pSTAT1</text>
<text x="128.9" y="506.2" font-size="8.7" text-anchor="start" fill="#231f20" stroke="#231f20" stroke-width="0.12">PARP</text>
<text x="128.9" y="522.1" font-size="8.7" text-anchor="start" fill="#231f20" stroke="#231f20" stroke-width="0.12">cleaved PARP</text>
<text x="128.9" y="543.8" font-size="8.7" text-anchor="start" fill="#231f20" stroke="#231f20" stroke-width="0.12"><tspan font-family="Liberation Serif">α</tspan>-Tubulin</text>
<text x="128.9" y="561.2" font-size="8.7" text-anchor="start" fill="#231f20" stroke="#231f20" stroke-width="0.12">Lane</text>
<text x="265.6" y="401.8" font-size="11" text-anchor="start" fill="#000" font-weight="bold">E</text>
<line x1="307.9" y1="414.2" x2="307.9" y2="536.2" stroke="#231f20" stroke-width="1"/>
<line x1="307.4" y1="535.7" x2="476.2" y2="535.7" stroke="#231f20" stroke-width="1"/>
<line x1="303.9" y1="535.7" x2="307.9" y2="535.7" stroke="#231f20" stroke-width="1"/>
<text x="302.8" y="538.9" font-size="9" text-anchor="end" fill="#231f20" stroke="#231f20" stroke-width="0.12">0</text>
<line x1="303.9" y1="505.2" x2="307.9" y2="505.2" stroke="#231f20" stroke-width="1"/>
<text x="302.8" y="508.4" font-size="9" text-anchor="end" fill="#231f20" stroke="#231f20" stroke-width="0.12">5</text>
<line x1="303.9" y1="475" x2="307.9" y2="475" stroke="#231f20" stroke-width="1"/>
<text x="302.8" y="478.2" font-size="9" text-anchor="end" fill="#231f20" stroke="#231f20" stroke-width="0.12">10</text>
<line x1="303.9" y1="445" x2="307.9" y2="445" stroke="#231f20" stroke-width="1"/>
<text x="302.8" y="448.2" font-size="9" text-anchor="end" fill="#231f20" stroke="#231f20" stroke-width="0.12">15</text>
<line x1="303.9" y1="415" x2="307.9" y2="415" stroke="#231f20" stroke-width="1"/>
<text x="302.8" y="418.2" font-size="9" text-anchor="end" fill="#231f20" stroke="#231f20" stroke-width="0.12">20</text>
<text x="0" y="0" font-size="9" text-anchor="middle" fill="#231f20" stroke="#231f20" stroke-width="0.12" transform="translate(283,475) rotate(-90)">Apoptosis (%)</text>
<line x1="320.6" y1="485.1" x2="320.6" y2="487.2" stroke="#222" stroke-width="1"/>
<line x1="318" y1="485.1" x2="323.2" y2="485.1" stroke="#222" stroke-width="1"/>
<line x1="318" y1="487.2" x2="323.2" y2="487.2" stroke="#222" stroke-width="1"/>
<rect x="315.4" y="487.2" width="10.4" height="48.2" fill="#3a48a8" stroke="#161c48" stroke-width="1"/>
<line x1="334.8" y1="438" x2="334.8" y2="442.8" stroke="#222" stroke-width="1"/>
<line x1="332.2" y1="438" x2="337.4" y2="438" stroke="#222" stroke-width="1"/>
<line x1="332.2" y1="442.8" x2="337.4" y2="442.8" stroke="#222" stroke-width="1"/>
<rect x="329.6" y="442.8" width="10.4" height="92.6" fill="#9a1b22" stroke="#3a0c0e" stroke-width="1"/>
<line x1="350.5" y1="423.3" x2="350.5" y2="424.2" stroke="#222" stroke-width="1"/>
<line x1="347.9" y1="423.3" x2="353.1" y2="423.3" stroke="#222" stroke-width="1"/>
<line x1="347.9" y1="424.2" x2="353.1" y2="424.2" stroke="#222" stroke-width="1"/>
<rect x="345.3" y="424.2" width="10.4" height="111.2" fill="#fdb913" stroke="#4a3a10" stroke-width="1"/>
<rect x="370.7" y="505.8" width="10.4" height="29.6" fill="#3a48a8" stroke="#161c48" stroke-width="1"/>
<rect x="385.9" y="454.2" width="10.4" height="81.2" fill="#9a1b22" stroke="#3a0c0e" stroke-width="1"/>
<line x1="406.3" y1="427.2" x2="406.3" y2="428.4" stroke="#222" stroke-width="1"/>
<line x1="403.7" y1="427.2" x2="408.9" y2="427.2" stroke="#222" stroke-width="1"/>
<line x1="403.7" y1="428.4" x2="408.9" y2="428.4" stroke="#222" stroke-width="1"/>
<rect x="401.1" y="428.4" width="10.4" height="107" fill="#fdb913" stroke="#4a3a10" stroke-width="1"/>
<rect x="426.3" y="505.2" width="10.4" height="30.2" fill="#3a48a8" stroke="#161c48" stroke-width="1"/>
<rect x="441.7" y="499.2" width="10.4" height="36.2" fill="#9a1b22" stroke="#3a0c0e" stroke-width="1"/>
<line x1="462.5" y1="492.9" x2="462.5" y2="496.2" stroke="#222" stroke-width="1"/>
<line x1="459.9" y1="492.9" x2="465.1" y2="492.9" stroke="#222" stroke-width="1"/>
<line x1="459.9" y1="496.2" x2="465.1" y2="496.2" stroke="#222" stroke-width="1"/>
<rect x="457.3" y="496.2" width="10.4" height="39.2" fill="#fdb913" stroke="#4a3a10" stroke-width="1"/>
<circle cx="335.2" cy="434" r="1.1" fill="#2e2e3a"/>
<circle cx="346.25" cy="420.2" r="1.1" fill="#2e2e3a"/>
<circle cx="350.3" cy="420.2" r="1.1" fill="#2e2e3a"/>
<circle cx="354.35" cy="420.2" r="1.1" fill="#2e2e3a"/>
<circle cx="387.05" cy="449.8" r="1.1" fill="#2e2e3a"/>
<circle cx="391.1" cy="449.8" r="1.1" fill="#2e2e3a"/>
<circle cx="395.15" cy="449.8" r="1.1" fill="#2e2e3a"/>
<circle cx="402.45" cy="422.1" r="1.1" fill="#2e2e3a"/>
<circle cx="406.5" cy="422.1" r="1.1" fill="#2e2e3a"/>
<circle cx="410.55" cy="422.1" r="1.1" fill="#2e2e3a"/>
<text x="330.5" y="547.2" font-size="9" text-anchor="middle" fill="#231f20" stroke="#231f20" stroke-width="0.12">JURKAT</text>
<text x="389.8" y="547.2" font-size="9" text-anchor="middle" fill="#231f20" stroke="#231f20" stroke-width="0.12">HPB-ALL</text>
<text x="447.3" y="547.2" font-size="9" text-anchor="middle" fill="#231f20" stroke="#231f20" stroke-width="0.12">LOUCY</text>
<line x1="314.3" y1="553.5" x2="409.6" y2="553.5" stroke="#555" stroke-width="0.8"/>
<line x1="426.5" y1="553.5" x2="469.2" y2="553.5" stroke="#555" stroke-width="0.8"/>
<text x="361.8" y="567.4" font-size="9" text-anchor="middle" fill="#231f20" stroke="#231f20" stroke-width="0.12">TYK2</text>
<text x="361.8" y="577.5" font-size="9" text-anchor="middle" fill="#231f20" stroke="#231f20" stroke-width="0.12">dependent</text>
<text x="448" y="567.4" font-size="9" text-anchor="middle" fill="#231f20" stroke="#231f20" stroke-width="0.12">TYK2</text>
<text x="448" y="577.5" font-size="9" text-anchor="middle" fill="#231f20" stroke="#231f20" stroke-width="0.12">independent</text>
<rect x="314.9" y="400.9" width="10.4" height="9.2" fill="#3a48a8" stroke="#222" stroke-width="0.8"/>
<text x="327.6" y="408.5" font-size="9" text-anchor="start" fill="#231f20" stroke="#231f20" stroke-width="0.12">No treatment</text>
<rect x="388.2" y="400.7" width="10.4" height="9.2" fill="#9a1b22" stroke="#222" stroke-width="0.8"/>
<text x="400.8" y="408.5" font-size="9" text-anchor="start" fill="#231f20" stroke="#231f20" stroke-width="0.12">3 <tspan font-family="Liberation Serif">µ</tspan>mol/L</text>
<rect x="437.5" y="400.7" width="10.2" height="9.2" fill="#fdb913" stroke="#222" stroke-width="0.8"/>
<text x="449.6" y="408.5" font-size="9" text-anchor="start" fill="#231f20" stroke="#231f20" stroke-width="0.12">10 <tspan font-family="Liberation Serif">µ</tspan>mol/L</text>
</svg>
</body></html>
